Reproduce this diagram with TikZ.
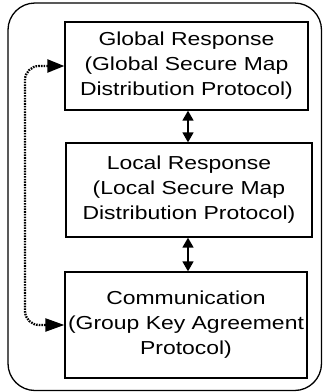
\documentclass[tikz,border=0pt]{standalone}
\usepackage{fontspec}
\setmainfont{Liberation Sans}[FakeStretch=1.22]
\usetikzlibrary{arrows.meta}
\begin{document}
\begin{tikzpicture}[x=1pt,y=-1pt,
  layerbox/.style={draw=black, line width=1.3pt, align=center, inner sep=0pt,
    font=\fontsize{18.8}{25}\selectfont},
  dblarrow/.style={line width=1.5pt, {Triangle[length=10pt,width=11pt]}-{Triangle[length=10pt,width=11pt]}},
  dotarrow/.style={line width=2.3pt, dash pattern=on 1.6pt off 1.1pt, rounded corners=14pt,
    {Triangle[length=17pt,width=13pt]}-{Triangle[length=19pt,width=13pt]}},
  outerbox/.style={draw=black, line width=1.3pt, rounded corners=27pt}]
\useasboundingbox (0,0) rectangle (323,392);
\draw[outerbox] (8,3) rectangle (321.5,390.5);
\node[layerbox, minimum width=243pt, minimum height=88pt] (top) at (186.5,66)
  {Global Response\\(Global Secure Map\\Distribution Protocol)};
\node[layerbox, minimum width=246pt, minimum height=94pt] (mid) at (189,190)
  {Local Response\\(Local Secure Map\\Distribution Protocol)};
\node[layerbox, minimum width=242pt, minimum height=106pt] (bot) at (186,325)
  {Communication\\(Group Key Agreement\\Protocol)};
\coordinate (left) at (25,200);
\draw[dblarrow] (top.south -| 188,0) -- (mid.north -| 188,0);
\draw[dblarrow] (mid.south -| 188,0) -- (bot.north -| 188,0);
\draw[dotarrow] (top.west) -| (left) |- (bot.west);
\end{tikzpicture}
\end{document}
